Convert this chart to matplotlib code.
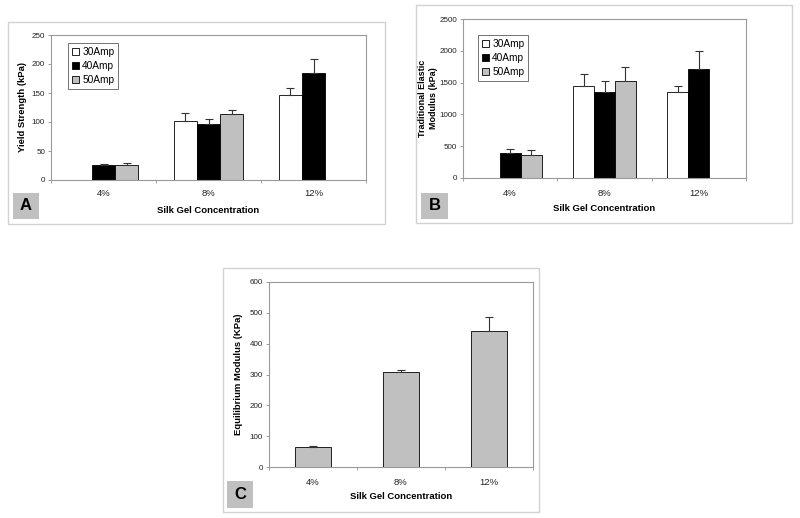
import matplotlib.pyplot as plt
import numpy as np
from matplotlib.patches import Rectangle

plt.rcParams["font.family"] = ["Liberation Sans", "DejaVu Sans"]

concentrations = ["4%", "8%", "12%"]
series_names = ["30Amp", "40Amp", "50Amp"]
series_colors = ["white", "black", "#c0c0c0"]

# panel A: yield strength (kPa); None = no bar
yield_mean = [[None, 102, 146], [26, 96, 185], [26, 113, None]]
yield_err = [[None, 13, 12], [1.5, 9, 23], [4, 7, None]]

# panel B: traditional elastic modulus (kPa)
elastic_mean = [[None, 1440, 1350], [400, 1350, 1712], [365, 1523, None]]
elastic_err = [[None, 189, 100], [62, 173, 289], [72, 226, None]]

# panel C: equilibrium modulus (KPa)
equil_mean = [66, 308, 442]
equil_err = [2, 6, 46]

W, H = 800, 518
fig = plt.figure(figsize=(W / 100, H / 100), dpi=100)


def px_rect(left, top, right, bottom):
    return [left / W, 1 - bottom / H, (right - left) / W, (bottom - top) / H]


def panel_frame(left, top, right, bottom, letter, box):
    fig.patches.append(Rectangle((left / W, 1 - bottom / H), (right - left) / W, (bottom - top) / H,
                                 transform=fig.transFigure, fill=False, edgecolor="#d2d2d2", lw=1))
    bl, bt, br, bb = box
    fig.patches.append(Rectangle((bl / W, 1 - bb / H), (br - bl) / W, (bb - bt) / H,
                                 transform=fig.transFigure, facecolor="#c0c0c0", edgecolor="none"))
    fig.text((bl + br) / 2 / W, 1 - (bt + bb) / 2 / H, letter, ha="center", va="center",
             fontsize=12, fontweight="bold")


def style_axes(ax, ymax, ystep, ylabel, ylab_x, xlab_y, tick_pad, ylab_size=6.8):
    ax.set_xlim(-0.5, 2.5)
    ax.set_ylim(0, ymax)
    ax.set_yticks(np.arange(0, ymax + 1, ystep))
    ax.set_xticks(range(len(concentrations)))
    ax.set_xticklabels(concentrations)
    ax.set_xticks([-0.5, 0.5, 1.5, 2.5], minor=True)
    ax.tick_params(axis="x", which="major", length=0, pad=tick_pad, labelsize=6.8, labelcolor="#222222")
    ax.tick_params(axis="x", which="minor", length=2.5, color="#909090", width=0.6)
    ax.tick_params(axis="y", length=2.5, color="#909090", width=0.6, pad=1.8, labelsize=5.8,
                   labelcolor="#222222")
    for s in ax.spines.values():
        s.set_color("#9a9a9a")
        s.set_linewidth(0.8)
    ax.set_ylabel(ylabel, fontsize=ylab_size, fontweight="bold", linespacing=1.2)
    ax.yaxis.label.set_va("center")
    ax.yaxis.set_label_coords(ylab_x, 0.5)
    ax.set_xlabel("Silk Gel Concentration", fontsize=6.8, fontweight="bold")
    ax.xaxis.label.set_va("center")
    ax.xaxis.set_label_coords(0.5, xlab_y)


def grouped_bars(ax, means, errs):
    w = 0.222
    x = np.arange(len(concentrations))
    for i, name in enumerate(series_names):
        xs, hs, es = [], [], []
        for j in range(len(concentrations)):
            if means[i][j] is not None:
                xs.append(x[j] + (i - 1) * w)
                hs.append(means[i][j])
                es.append(errs[i][j])
        ax.bar(xs, hs, width=w, color=series_colors[i], edgecolor="black", linewidth=0.6, label=name,
               yerr=[np.zeros(len(es)), es], error_kw=dict(ecolor="#333333", elinewidth=0.8,
                                                           capsize=3, capthick=0.8))
    return ax


def add_legend(ax, left, top):
    leg = ax.legend(loc="upper left", bbox_to_anchor=(left / W, 1 - top / H), bbox_transform=fig.transFigure,
                    fontsize=7.3, frameon=True, fancybox=False, edgecolor="#333333", borderaxespad=0,
                    handlelength=0.7, handleheight=0.7, handletextpad=0.3, labelspacing=0.4, borderpad=0.4)
    leg.get_frame().set_linewidth(0.6)


# panel A
panel_frame(8, 22, 385, 224, "A", (13, 193, 39, 219))
axA = fig.add_axes(px_rect(51, 35, 366, 180))
grouped_bars(axA, yield_mean, yield_err)
style_axes(axA, 250, 50, "Yield Strength (kPa)", -0.092, -0.207, 6.5)
add_legend(axA, 68, 43)

# panel B
panel_frame(416, 5, 792, 223, "B", (421, 193, 448, 219))
axB = fig.add_axes(px_rect(463, 19, 746, 178))
grouped_bars(axB, elastic_mean, elastic_err)
style_axes(axB, 2500, 500, "Traditional Elastic\nModulus (kPa)", -0.124, -0.194, 8, ylab_size=6.5)
add_legend(axB, 478, 35)

# panel C
panel_frame(223, 268, 539, 512, "C", (227, 481, 253, 508))
axC = fig.add_axes(px_rect(269, 282, 533, 467))
axC.bar(range(len(concentrations)), equil_mean, width=0.4, color="#c0c0c0", edgecolor="black", linewidth=0.6,
        yerr=[np.zeros(len(equil_err)), equil_err],
        error_kw=dict(ecolor="#333333", elinewidth=0.8, capsize=3, capthick=0.8))
style_axes(axC, 600, 100, "Equilibrium Modulus (KPa)", -0.117, -0.162, 8)

fig.savefig("out.png", dpi=100)
